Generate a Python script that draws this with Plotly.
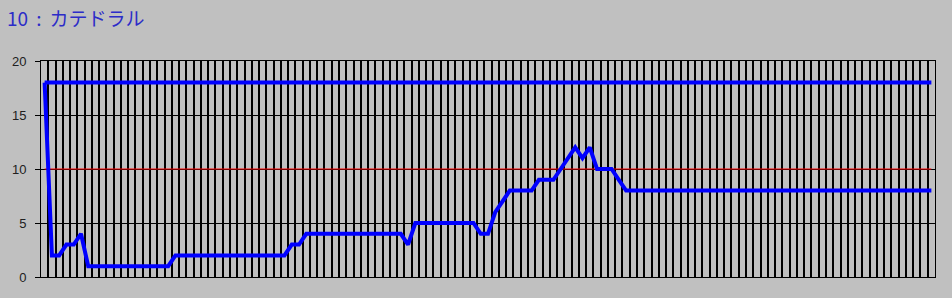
import plotly.graph_objects as go

# Data (one value per round)
rounds = list(range(1, 124))
ranks = [18, 2, 2, 3, 3, 4,
         1, 1, 1, 1, 1, 1, 1, 1, 1, 1, 1, 1,
         2, 2, 2, 2, 2, 2, 2, 2, 2, 2, 2, 2, 2, 2, 2, 2,
         3, 3,
         4, 4, 4, 4, 4, 4, 4, 4, 4, 4, 4, 4, 4, 4,
         3,
         5, 5, 5, 5, 5, 5, 5, 5, 5,
         4, 4, 6, 7,
         8, 8, 8, 8,
         9, 9, 9,
         10, 11, 12, 11, 12,
         10, 10, 10, 9,
         8, 8, 8, 8, 8, 8, 8, 8, 8, 8, 8, 8, 8, 8, 8, 8, 8, 8, 8, 8, 8, 8,
         8, 8, 8, 8, 8, 8, 8, 8, 8, 8, 8, 8, 8, 8, 8, 8, 8, 8, 8, 8, 8]
bottom_rank = 18
middle_rank = 10
y_ticks = [0, 5, 10, 15, 20]
title_text = "10\u00a0\u2009:\u00a0\u2009カテドラル"

x_first, x_last = rounds[0], rounds[-1]

fig = go.Figure()
fig.add_trace(go.Scatter(x=[x_first, x_last], y=[middle_rank, middle_rank], mode="lines",
                         line=dict(color="#ff0000", width=1.2), hoverinfo="skip"))
fig.add_trace(go.Scatter(x=[x_first, x_last], y=[bottom_rank, bottom_rank], mode="lines",
                         line=dict(color="#0000ff", width=4), hoverinfo="skip"))
fig.add_trace(go.Scatter(x=rounds, y=ranks, mode="lines",
                         line=dict(color="#0000ff", width=4)))

fig.update_layout(
    width=952, height=298,
    margin=dict(l=38, r=17, t=61, b=21, pad=0),
    paper_bgcolor="#c0c0c0", plot_bgcolor="#c0c0c0",
    showlegend=False,
    title=dict(text=title_text, x=7/952, xanchor="left", xref="container",
               y=1-19/298, yanchor="middle", yref="container",
               font=dict(family="Noto Sans CJK JP", size=19, color="#2c2cc8")),
    xaxis=dict(range=[x_first - 0.5, x_last + 0.5], tick0=x_first - 0.5, dtick=1,
               showgrid=True, gridcolor="#000000", gridwidth=1.5,
               showticklabels=False, ticks="", zeroline=False,
               showline=True, linecolor="#000000", linewidth=1, mirror=True),
    yaxis=dict(range=[0, 20], tickvals=y_ticks, showgrid=True, gridcolor="#000000", gridwidth=1,
               ticks="outside", ticklen=5, tickcolor="#000000", zeroline=False,
               showline=True, linecolor="#000000", linewidth=1, mirror=True,
               ticklabelstandoff=6,
               tickfont=dict(family="Liberation Sans", size=13, color="#202020")),
)

fig.write_html("out.html")
